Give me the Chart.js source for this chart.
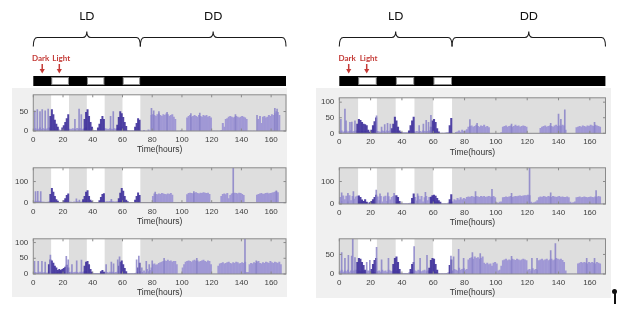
<!DOCTYPE html>
<html>
<head>
<meta charset="utf-8">
<script src="https://cdn.jsdelivr.net/npm/chart.js@4/dist/chart.umd.min.js"></script>
<style>
  html, body { margin: 0; padding: 0; background: #fff; }
  body { width: 617px; height: 311px; position: relative; overflow: hidden; }
  .painel { position: absolute; background: #f0f0f0; }
  canvas { position: absolute; }
  .marca { position: absolute; background: #111; }
</style>
</head>
<body>
<div class="painel" style="left:12px;top:88px;width:275px;height:209px"></div>
<div class="painel" style="left:316px;top:88px;width:295px;height:210px"></div>
<div class="marca" style="left:612px;top:289px;width:5px;height:5px;border-radius:3px"></div>
<div class="marca" style="left:614px;top:292px;width:2px;height:12px"></div>
<script>
//Actogramas LD/DD recriados com Chart.js

//Eixo do tempo (horas) e marcas do eixo
const xMax = 170;
const ticksX = [0, 20, 40, 60, 80, 100, 120, 140, 160];

//Períodos de luz (ciclo LD) e fases do experimento
const periodosLuz = [[12, 24], [36, 48], [60, 72]];
const fases = [['LD', 0, 72], ['DD', 72, 170]];
const marcadores = [{ texto: 'Dark', hora: 6 }, { texto: 'Light', hora: 17.5 }];

//Marcas do eixo y de cada gráfico
const ticksEsq1 = [0, 50];
const ticksEsq2 = [0, 100];
const ticksEsq3 = [0, 50, 100];
const ticksDir1 = [0, 50, 100];
const ticksDir2 = [0, 100];
const ticksDir3 = [0, 50];

//Atividade por hora (0..169), painel esquerdo
const atividadeEsq1 = [
    4, 6, 3, 5, 8, 4, 6, 5, 4, 6, 8, 3,
    2, 2, 3, 2, 2, 3, 2, 2, 2, 2, 2, 2,
    5, 4, 6, 5, 4, 7, 5, 6, 4, 5, 6, 8,
    2, 2, 2, 2, 2, 2, 1, 1, 2, 2, 2, 2,
    6, 5, 4, 6, 5, 4, 6, 5, 6, 8, 10, 10,
    2, 2, 2, 2, 1, 1, 1, 1, 2, 2, 2, 2,
    0, 0, 2, 0, 0, 3, 0, 40, 42, 40, 38, 42,
    44, 40, 38, 42, 40, 44, 42, 38, 40, 42, 36, 30,
    0, 0, 0, 2, 0, 0, 0, 34, 38, 40, 36, 38,
    40, 38, 36, 40, 38, 36, 40, 38, 40, 36, 38, 34,
    0, 0, 0, 0, 0, 0, 2, 20, 10, 30, 32, 36,
    38, 36, 34, 36, 38, 36, 34, 36, 38, 36, 34, 30,
    0, 0, 0, 0, 0, 0, 0, 30, 38, 20, 36, 38,
    34, 36, 40, 38, 42, 40, 45, 50, 48, 40, 0, 0,
    0, 0
];
const densoEsq1 = [[11, 38], [12, 55], [13, 42], [14, 28], [15, 18], [16, 10], [19, 8], [20, 14], [21, 22], [22, 32], [23, 42],
    [34, 30], [35, 48], [36, 55], [37, 38], [38, 22], [39, 10], [43, 8], [44, 18], [45, 30], [46, 38], [47, 30],
    [56, 15], [57, 35], [58, 50], [59, 45], [60, 35], [61, 22], [62, 12], [68, 10], [69, 20], [70, 32], [71, 28]];
const picosEsq1 = [[1, 52], [2.7, 55], [4.5, 50], [6, 55], [8, 52], [10, 56], [28, 30], [30.8, 56], [32.3, 42], [52, 38], [53.8, 50],
    [79.5, 58], [81, 52], [84.5, 50], [90, 48], [106, 45], [112, 46], [136, 42], [150.5, 40], [162.5, 58], [164, 56]];

const atividadeEsq2 = [
    4, 8, 6, 8, 6, 4, 3, 3, 2, 3, 4, 3,
    3, 3, 2, 2, 2, 2, 2, 2, 2, 2, 2, 2,
    3, 3, 2, 4, 3, 5, 4, 3, 4, 3, 5, 8,
    3, 2, 2, 2, 2, 2, 2, 2, 2, 2, 2, 2,
    4, 5, 5, 6, 8, 5, 4, 4, 5, 6, 8, 10,
    3, 2, 2, 2, 2, 2, 2, 2, 2, 2, 2, 2,
    0, 0, 0, 0, 0, 0, 0, 0, 30, 42, 40, 38,
    42, 40, 44, 42, 40, 38, 42, 40, 44, 36, 0, 0,
    0, 0, 0, 0, 0, 0, 0, 38, 44, 46, 44, 42,
    46, 48, 44, 42, 46, 44, 48, 46, 44, 46, 40, 0,
    0, 0, 0, 0, 0, 0, 30, 40, 42, 38, 44, 20,
    35, 42, 44, 46, 44, 42, 46, 44, 40, 35, 0, 0,
    0, 0, 0, 0, 0, 0, 36, 40, 42, 44, 40, 42,
    44, 46, 42, 44, 46, 48, 50, 52, 48, 0, 0, 0,
    0, 0
];
const densoEsq2 = [[11, 40], [12, 68], [13, 50], [14, 30], [15, 15], [16, 8], [20, 10], [21, 20], [22, 35], [23, 42],
    [33, 15], [34, 30], [35, 50], [36, 57], [37, 30], [38, 12], [39, 5], [44, 10], [45, 25], [46, 40], [47, 43],
    [57, 20], [58, 45], [59, 68], [60, 55], [61, 30], [62, 12], [63, 5], [68, 12], [69, 30], [70, 47], [71, 35]];
const picosEsq2 = [[1.5, 52], [3, 54], [5, 52], [29, 18], [31, 12], [52.5, 16], [82, 50], [108, 52], [134.5, 165], [163.5, 56]];

const atividadeEsq3 = [
    4, 5, 3, 4, 6, 3, 4, 5, 3, 4, 10, 3,
    4, 3, 3, 3, 5, 8, 10, 8, 6, 5, 4, 3,
    5, 6, 4, 5, 6, 5, 4, 6, 5, 6, 8, 8,
    3, 2, 2, 2, 2, 2, 2, 2, 2, 2, 2, 2,
    6, 5, 4, 6, 5, 6, 4, 5, 6, 8, 8, 8,
    3, 2, 2, 1, 1, 1, 1, 1, 2, 4, 6, 8,
    0, 5, 10, 4, 15, 8, 12, 20, 30, 32, 28, 30,
    34, 36, 38, 40, 42, 40, 44, 40, 42, 38, 40, 40,
    30, 0, 0, 0, 20, 30, 38, 40, 42, 40, 38, 42,
    44, 40, 42, 38, 40, 42, 44, 40, 38, 42, 40, 30,
    0, 0, 0, 0, 25, 32, 34, 36, 32, 34, 36, 38,
    34, 32, 36, 34, 38, 36, 32, 34, 36, 34, 38, 5,
    5, 30, 34, 32, 36, 34, 38, 40, 34, 32, 36, 34,
    38, 36, 34, 40, 36, 34, 38, 36, 34, 38, 30, 0,
    0, 0
];
const densoEsq3 = [[10, 30], [11, 45], [12, 42], [13, 35], [14, 25], [15, 20], [16, 12], [17, 15], [18, 12], [19, 15], [20, 18], [21, 22], [22, 28], [23, 20],
    [34, 25], [35, 38], [36, 40], [37, 30], [38, 15], [39, 6], [45, 8], [46, 12], [47, 6],
    [57, 25], [58, 38], [59, 42], [60, 30], [61, 18], [62, 8], [70, 20], [71, 35]];
const picosEsq3 = [[0.8, 40], [3.3, 40], [5.8, 40], [8, 38], [11.5, 60], [22.2, 56], [23.5, 45], [26, 30], [29.2, 42], [32.4, 44],
    [49, 30], [52.5, 38], [54, 32], [56.8, 45], [58, 55], [69.5, 45], [71, 57], [73, 20], [76, 40], [78, 30], [80, 42],
    [88, 50], [110, 50], [142.4, 112], [150, 42]];

//Atividade por hora (0..169), painel direito
const atividadeDir1 = [
    5, 8, 4, 6, 8, 5, 6, 8, 5, 6, 8, 3,
    5, 4, 6, 5, 6, 5, 4, 3, 2, 3, 3, 3,
    6, 5, 4, 8, 6, 5, 8, 6, 8, 6, 4, 3,
    4, 3, 2, 2, 2, 2, 2, 2, 2, 2, 3, 3,
    5, 6, 4, 6, 5, 8, 6, 5, 6, 8, 8, 3,
    3, 2, 2, 2, 1, 1, 1, 1, 2, 2, 3, 3,
    0, 0, 3, 5, 8, 4, 10, 6, 8, 12, 20, 22,
    24, 20, 22, 26, 22, 20, 24, 22, 26, 20, 22, 18,
    0, 0, 0, 0, 0, 0, 0, 2, 20, 22, 24, 20,
    22, 24, 20, 22, 26, 22, 24, 20, 22, 24, 22, 20,
    0, 0, 0, 0, 0, 0, 0, 0, 16, 20, 22, 24,
    20, 22, 24, 22, 20, 24, 26, 22, 24, 22, 26, 24,
    10, 0, 0, 0, 0, 0, 0, 18, 20, 22, 20, 24,
    22, 20, 24, 22, 26, 24, 22, 26, 24, 22, 20, 0,
    0, 0
];
const densoDir1 = [[11, 30], [12, 45], [13, 42], [14, 35], [15, 30], [16, 28], [17, 25], [18, 10], [19, 4], [20, 10], [21, 25], [22, 38], [23, 50],
    [33, 15], [34, 30], [35, 52], [36, 40], [37, 20], [38, 8], [39, 3], [44, 8], [45, 25], [46, 40], [47, 52],
    [58, 20], [59, 40], [60, 45], [61, 35], [62, 15], [63, 5], [70, 25], [71, 48]];
const picosDir1 = [[1, 45], [3.6, 78], [4.3, 40], [6.8, 35], [8, 36], [10, 40], [23.8, 56], [27, 20], [29, 28], [30.8, 32], [32.6, 30],
    [51, 25], [53.7, 30], [55.5, 42], [57, 35], [58.5, 58], [83.4, 44], [88, 32], [110, 30], [135, 32], [140, 62], [141.5, 45], [144, 75], [163, 35]];

const atividadeDir2 = [
    30, 12, 36, 20, 35, 10, 38, 15, 34, 22, 32, 35,
    10, 8, 6, 12, 8, 6, 4, 4, 6, 5, 4, 5,
    32, 15, 34, 10, 32, 35, 12, 33, 18, 30, 34, 36,
    10, 8, 4, 3, 2, 2, 2, 2, 3, 4, 6, 8,
    30, 14, 35, 20, 34, 10, 28, 34, 15, 30, 32, 35,
    15, 10, 8, 5, 4, 2, 2, 2, 2, 4, 6, 8,
    10, 20, 15, 25, 18, 28, 20, 25, 22, 30, 32, 30,
    34, 32, 30, 34, 32, 30, 34, 32, 34, 30, 32, 34,
    32, 30, 34, 28, 6, 4, 8, 10, 28, 30, 32, 30,
    32, 34, 30, 32, 34, 33, 35, 36, 34, 36, 38, 38,
    40, 38, 8, 4, 6, 10, 15, 28, 32, 30, 34, 32,
    30, 34, 32, 30, 34, 32, 30, 32, 34, 30, 32, 30,
    30, 32, 28, 8, 4, 6, 10, 28, 30, 32, 28, 30,
    32, 30, 28, 30, 32, 30, 28, 32, 30, 34, 32, 0,
    0, 0
];
const densoDir2 = [[12, 36], [13, 30], [14, 18], [15, 12], [16, 20], [17, 8], [19, 6], [20, 12], [21, 20], [22, 30], [23, 40],
    [36, 38], [37, 30], [38, 12], [46, 25], [47, 45],
    [58, 30], [59, 38], [60, 40], [61, 35], [62, 25], [63, 15], [64, 8], [70, 20], [71, 42]];
const picosDir2 = [[1.5, 50], [5.5, 48], [9, 55], [23.6, 62], [26, 45], [31, 50], [35, 48], [50, 45], [55, 52],
    [87, 55], [97.5, 65], [110, 48], [121.5, 161], [135, 50], [164, 60]];

const atividadeDir3 = [
    6, 10, 5, 8, 6, 10, 5, 8, 6, 8, 10, 3,
    8, 6, 5, 8, 6, 5, 8, 6, 5, 5, 4, 4,
    6, 8, 5, 10, 6, 8, 5, 10, 8, 6, 8, 3,
    8, 5, 3, 2, 2, 2, 2, 2, 3, 3, 4, 4,
    8, 6, 10, 8, 6, 8, 10, 6, 8, 8, 3, 3,
    6, 4, 3, 2, 1, 1, 1, 1, 2, 3, 4, 5,
    8, 12, 10, 8, 15, 10, 12, 14, 10, 12, 36, 40,
    42, 38, 44, 40, 42, 38, 40, 44, 28, 25, 28, 24,
    26, 20, 28, 30, 26, 8, 10, 20, 34, 36, 38, 34,
    36, 34, 38, 36, 35, 38, 36, 34, 36, 38, 36, 34,
    10, 12, 8, 14, 10, 12, 10, 34, 36, 38, 34, 36,
    38, 34, 36, 38, 34, 36, 40, 38, 36, 38, 35, 30,
    8, 0, 0, 0, 0, 0, 0, 0, 26, 28, 30, 28,
    30, 28, 26, 30, 28, 30, 28, 26, 30, 28, 26, 0,
    0, 0
];
const densoDir3 = [[11, 30], [12, 40], [13, 38], [14, 30], [15, 22], [16, 10], [20, 12], [21, 25], [22, 35], [23, 40],
    [34, 25], [35, 40], [36, 44], [37, 30], [38, 12], [45, 12], [46, 25], [47, 30],
    [57, 15], [58, 35], [59, 40], [60, 38], [61, 25], [62, 10], [70, 22], [71, 36]];
const picosDir3 = [[1.5, 55], [3.6, 40], [5.8, 48], [7.9, 46], [8.6, 90], [10, 42], [17.5, 30], [19.5, 35], [23.8, 68], [27, 36], [31.4, 40],
    [47.8, 70], [51.6, 40], [56, 48], [71.3, 46], [73, 44], [76.2, 63], [79.4, 40], [85, 55], [90, 52], [110, 45],
    [123, 40], [126.3, 40], [135, 60], [138, 78], [158, 40], [163, 40]];

//Cores
const corClara = 'rgb(160,152,213)';
const corEscura = 'rgba(62,48,155,0.9)';
const corPico = 'rgba(138,130,200,0.85)';
const corFundo = '#dedede';
const corVermelha = '#c43a36';
const corTexto = '#404040';

//Posição de cada painel e de cada gráfico (pixels da página)
const paineis = [
    {
        left: 13, cl: 33.3, cr: 286,
        graficos: [
            { top: 91.7, bottom: 131, max: 93, ticks: ticksEsq1, atividade: atividadeEsq1, denso: densoEsq1, picos: picosEsq1 },
            { top: 164, bottom: 202.7, max: 165, ticks: ticksEsq2, atividade: atividadeEsq2, denso: densoEsq2, picos: picosEsq2 },
            { top: 235, bottom: 274, max: 112, ticks: ticksEsq3, atividade: atividadeEsq3, denso: densoEsq3, picos: picosEsq3 }
        ]
    },
    {
        left: 317, cl: 339.3, cr: 605.5,
        graficos: [
            { top: 94.3, bottom: 133.3, max: 114, ticks: ticksDir1, atividade: atividadeDir1, denso: densoDir1, picos: picosDir1 },
            { top: 164.3, bottom: 204, max: 161, ticks: ticksDir2, atividade: atividadeDir2, denso: densoDir2, picos: picosDir2 },
            { top: 235, bottom: 274, max: 90, ticks: ticksDir3, atividade: atividadeDir3, denso: densoDir3, picos: picosDir3 }
        ]
    }
];

Chart.defaults.font.family = "'Liberation Sans', Arial, sans-serif";

function criarCanvas(esq, topo, larg, alt) {
    const c = document.createElement('canvas');
    c.width = larg;
    c.height = alt;
    c.style.left = esq + 'px';
    c.style.top = topo + 'px';
    c.style.width = larg + 'px';
    c.style.height = alt + 'px';
    document.body.appendChild(c);
    return c;
}

//Fundo cinza (escuro) com faixas brancas (luz), caixa e marcas internas
const pluginFundo = {
    id: 'fundoLuz',
    beforeDatasetsDraw(chart) {
        const { ctx, chartArea: a, scales: { x } } = chart;
        ctx.save();
        ctx.fillStyle = corFundo;
        ctx.fillRect(a.left, a.top, a.width, a.height);
        ctx.fillStyle = '#ffffff';
        periodosLuz.forEach(([ini, fim]) => {
            const x0 = x.getPixelForValue(ini);
            const x1 = x.getPixelForValue(fim);
            ctx.fillRect(x0, a.top, x1 - x0, a.height);
        });
        ctx.restore();
    },
    afterDraw(chart) {
        const { ctx, chartArea: a, scales: { x, y } } = chart;
        ctx.save();
        ctx.strokeStyle = '#8a8a8a';
        ctx.lineWidth = 1;
        ctx.strokeRect(a.left, a.top, a.width, a.height);
        ctx.beginPath();
        x.ticks.forEach(t => {
            const px = x.getPixelForValue(t.value);
            ctx.moveTo(px, a.bottom); ctx.lineTo(px, a.bottom - 2.5);
            ctx.moveTo(px, a.top); ctx.lineTo(px, a.top + 2.5);
        });
        y.ticks.forEach(t => {
            const py = y.getPixelForValue(t.value);
            ctx.moveTo(a.left, py); ctx.lineTo(a.left + 2.5, py);
            ctx.moveTo(a.right, py); ctx.lineTo(a.right - 2.5, py);
        });
        ctx.stroke();
        ctx.restore();
    }
};

//Chaves LD/DD, rótulos Dark/Light e setas
const pluginCabecalho = {
    id: 'cabecalho',
    afterDraw(chart) {
        const { ctx, scales: { x } } = chart;
        ctx.save();
        const yl = 37.5, yp = 31.5, ye = 46.5, r = 4;
        ctx.strokeStyle = '#1a1a1a';
        ctx.lineWidth = 1.1;
        ctx.fillStyle = '#111';
        ctx.font = "12px Lato, 'Open Sans', sans-serif";
        ctx.textAlign = 'center';
        ctx.textBaseline = 'middle';
        fases.forEach(([nome, ini, fim]) => {
            const a = x.getPixelForValue(ini);
            const b = x.getPixelForValue(fim);
            const c = (a + b) / 2;
            ctx.beginPath();
            ctx.moveTo(a, ye);
            ctx.quadraticCurveTo(a, yl, a + r, yl);
            ctx.lineTo(c - r, yl);
            ctx.quadraticCurveTo(c, yl, c, yp);
            ctx.quadraticCurveTo(c, yl, c + r, yl);
            ctx.lineTo(b - r, yl);
            ctx.quadraticCurveTo(b, yl, b, ye);
            ctx.stroke();
            ctx.fillText(nome, c, 16.5);
        });

        ctx.fillStyle = corVermelha;
        ctx.strokeStyle = corVermelha;
        ctx.font = "bold 8px Lato, 'Open Sans', sans-serif";
        marcadores.forEach((m, i) => {
            const px = x.getPixelForValue(m.hora);
            ctx.textAlign = i === 0 ? 'right' : 'left';
            ctx.fillText(m.texto, i === 0 ? px + 7 : px - 7, 58);
            ctx.lineWidth = 1.5;
            ctx.beginPath();
            ctx.moveTo(px, 64);
            ctx.lineTo(px, 70);
            ctx.stroke();
            ctx.beginPath();
            ctx.moveTo(px - 2.6, 69);
            ctx.lineTo(px + 2.6, 69);
            ctx.lineTo(px, 73.5);
            ctx.closePath();
            ctx.fill();
        });
        ctx.restore();
    }
};

function criarCabecalho(p) {
    const esq = Math.floor(p.cl) - 12;
    const larg = Math.ceil(p.cr) + 12 - esq;
    const canvas = criarCanvas(esq, 0, larg, 90);
    new Chart(canvas, {
        type: 'bar',
        data: {
            labels: ['ciclo'],
            datasets: [{
                data: [{ x: [0, xMax], y: 'ciclo' }],
                backgroundColor: '#000',
                grouped: false,
                barPercentage: 1,
                categoryPercentage: 1,
                order: 2
            }, {
                data: periodosLuz.map(per => ({ x: per, y: 'ciclo' })),
                backgroundColor: '#fff',
                borderColor: '#8a8a8a',
                borderWidth: 1,
                borderSkipped: false,
                grouped: false,
                barPercentage: 0.85,
                categoryPercentage: 1,
                order: 1
            }]
        },
        options: {
            indexAxis: 'y',
            responsive: false,
            animation: false,
            events: [],
            layout: { padding: { left: p.cl - esq, right: larg - (p.cr - esq), top: 76, bottom: 4 } },
            scales: {
                x: { type: 'linear', min: 0, max: xMax, display: false },
                y: { type: 'category', display: false }
            },
            plugins: { legend: { display: false }, tooltip: { enabled: false } }
        },
        plugins: [pluginCabecalho]
    });
}

function criarGrafico(p, g) {
    const hx = 24;
    const topo = Math.floor(g.top) - 6;
    const alt = Math.ceil(g.bottom + hx) + 1 - topo;
    const larg = Math.ceil(p.cr) + 3 - p.left;
    const canvas = criarCanvas(p.left, topo, larg, alt);
    const largBarra = (p.cr - p.cl) / xMax * 0.9;

    new Chart(canvas, {
        type: 'bar',
        data: {
            datasets: [{
                data: g.atividade.map((v, i) => ({ x: i + 0.5, y: v })),
                backgroundColor: corClara,
                barThickness: largBarra,
                grouped: false,
                order: 3
            }, {
                data: g.denso.map(([h, v]) => ({ x: h + 0.5, y: v })),
                backgroundColor: corEscura,
                barThickness: largBarra,
                grouped: false,
                order: 2
            }, {
                data: g.picos.map(([h, v]) => ({ x: h, y: v })),
                backgroundColor: corPico,
                barThickness: 1,
                grouped: false,
                order: 1
            }]
        },
        options: {
            responsive: false,
            animation: false,
            events: [],
            layout: { padding: { left: 0, top: g.top - topo, right: larg - (p.cr - p.left), bottom: alt - (g.bottom - topo) - hx } },
            scales: {
                x: {
                    type: 'linear', min: 0, max: xMax, offset: false,
                    afterBuildTicks: s => { s.ticks = ticksX.map(v => ({ value: v })); },
                    afterFit: s => { s.height = hx; },
                    grid: { display: false, drawTicks: false },
                    border: { display: false },
                    ticks: { padding: 4, autoSkip: false, maxRotation: 0, color: corTexto, font: { size: 8 } },
                    title: { display: true, text: 'Time(hours)', color: '#333', font: { size: 8.5 }, padding: 0 }
                },
                y: {
                    type: 'linear', min: 0, max: g.max,
                    afterBuildTicks: s => { s.ticks = g.ticks.map(v => ({ value: v })); },
                    afterFit: s => { s.width = p.cl - p.left; },
                    grid: { display: false, drawTicks: false },
                    border: { display: false },
                    ticks: { padding: 5, color: corTexto, font: { size: 8 } }
                }
            },
            plugins: { legend: { display: false }, tooltip: { enabled: false } }
        },
        plugins: [pluginFundo]
    });
}

paineis.forEach(p => {
    criarCabecalho(p);
    p.graficos.forEach(g => criarGrafico(p, g));
});
</script>
</body>
</html>
